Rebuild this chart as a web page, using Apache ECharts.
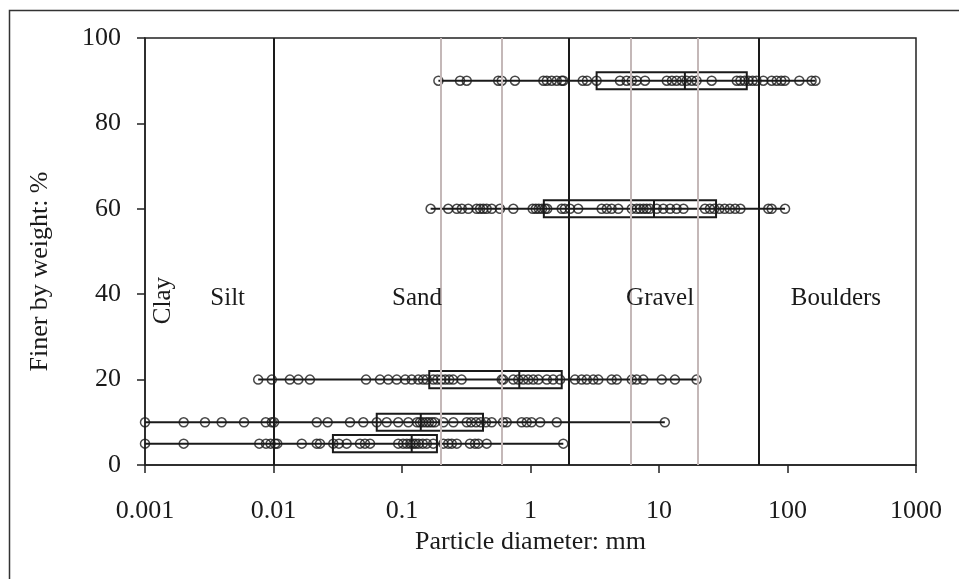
<!DOCTYPE html>
<html>
<head>
<meta charset="utf-8">
<script src="https://cdn.jsdelivr.net/npm/echarts@6/dist/echarts.min.js"></script>
<style>
html,body{margin:0;padding:0;background:#fff;}
#chart{width:959px;height:579px;}
</style>
</head>
<body>
<div id="chart"></div>
<script>
// Tick labels
const xTickLabels = ['0.001','0.01','0.1','1','10','100','1000'];
const yTickLabels = [0,20,40,60,80,100];

// Rows (percent finer) and their particle diameters (mm)
const rowLevels = [5, 10, 20, 60, 90];

const d5 = [0.001,0.002,0.00775,0.00874,0.0095,0.0103,0.0107,0.0166,0.0217,0.023,0.0292,0.0323,0.0371,0.0471,0.0515,0.0564,0.0935,0.102,0.109,0.116,0.122,0.128,0.135,0.145,0.156,0.175,0.21,0.229,0.244,0.267,0.338,0.37,0.393,0.456,1.8];
const d10 = [0.001,0.002,0.00293,0.00395,0.0059,0.0087,0.0097,0.0101,0.0217,0.0264,0.0394,0.05,0.0636,0.076,0.0935,0.112,0.131,0.138,0.145,0.154,0.162,0.171,0.18,0.21,0.251,0.319,0.345,0.377,0.41,0.45,0.499,0.611,0.653,0.854,0.934,1.02,1.19,1.6,11.1];
const d20 = [0.0076,0.0097,0.0134,0.0156,0.0192,0.0525,0.0674,0.0782,0.091,0.106,0.119,0.134,0.146,0.156,0.175,0.188,0.202,0.217,0.233,0.25,0.291,0.597,0.614,0.735,0.804,0.879,0.96,1.05,1.15,1.34,1.5,1.7,2.22,2.5,2.74,3.08,3.37,4.28,4.69,6.14,6.7,7.55,10.5,13.3,19.6];
const d60 = [0.167,0.229,0.267,0.292,0.328,0.381,0.405,0.429,0.456,0.499,0.579,0.735,1.04,1.1,1.16,1.23,1.3,1.35,1.75,1.85,2.03,2.35,3.58,3.92,4.28,4.82,6.14,6.7,7.11,7.57,8.02,8.51,9.6,10.8,12.2,13.7,15.5,22.8,24.9,26.9,29.5,32.4,35.6,39.1,43,70.9,75.3,95.7];
const d90 = [0.192,0.283,0.319,0.561,0.597,0.757,1.26,1.34,1.46,1.6,1.75,1.8,2.55,2.75,3.27,4.97,5.6,6.14,6.7,7.78,11.5,12.6,13.7,15.1,16.4,18.0,19.6,25.7,40.3,43,46.4,49.8,53.5,57.4,64.8,75.3,82.4,89.4,95.4,123.6,154,165];

// Box statistics per row: [level, min, q1, median, q3, max]
const boxStats = [
  [5, 0.001, 0.029, 0.119, 0.187, 1.8],
  [10, 0.001, 0.0636, 0.14, 0.427, 11.1],
  [20, 0.0076, 0.163, 0.818, 1.75, 19.6],
  [60, 0.167, 1.27, 9.14, 27.8, 95.7],
  [90, 0.192, 3.27, 15.9, 48.2, 165]
];

// Class boundaries (mm)
const majorBounds = [0.002, 0.01, 2, 60];
const minorBounds = [0.2, 0.6, 6, 20];

// Class names and label positions
const classNames = ['Clay','Silt','Sand','Gravel','Boulders'];
const classX = [0.00138, 0.0044, 0.131, 10.2, 238];
const classY = [38.5, 39, 39, 39, 39];

const rows = [d5, d10, d20, d60, d90];
const pointData = [];
rows.forEach((arr, i) => arr.forEach(v => pointData.push([v, rowLevels[i]])));

const FONT = '"Liberation Serif", "DejaVu Serif", serif';
const TXT = '#1a1a1a';

const chart = echarts.init(document.getElementById('chart'), null, {renderer:'canvas'});

const halfH = 2; // box half-height in % units

const option = {
  animation: false,
  backgroundColor: '#fff',
  graphic: [{
    type: 'rect', left: 7, top: 8, shape: {width: 1000, height: 1000},
    style: {fill: 'none', stroke: '#333', lineWidth: 1.5}, z: -10
  }],
  grid: {left: 145, right: 43, top: 38, bottom: 114, show: true, borderColor: '#222', borderWidth: 1.5, backgroundColor: 'transparent'},
  xAxis: {
    type: 'log', logBase: 10, min: 0.001, max: 1000,
    name: 'Particle diameter: mm', nameLocation: 'middle', nameGap: 60,
    nameTextStyle: {fontFamily: FONT, fontSize: 26, color: TXT},
    axisLine: {show: true, onZero: false, lineStyle: {color: '#222', width: 1.5}},
    axisTick: {show: true, length: 8, inside: false, lineStyle: {color: '#222', width: 1.5}},
    minorTick: {show: false},
    splitLine: {show: false},
    axisLabel: {fontFamily: FONT, fontSize: 26, color: TXT, margin: 33,
      formatter: function(v){ const i = Math.round(Math.log10(v)) + 3; return xTickLabels[i] !== undefined ? xTickLabels[i] : ''; }}
  },
  yAxis: {
    type: 'value', min: 0, max: 100, interval: 20,
    name: 'Finer by weight: %', nameLocation: 'middle', nameGap: 92, nameRotate: 90,
    nameTextStyle: {fontFamily: FONT, fontSize: 26, color: TXT, padding: [0, 40, 0, 0]},
    axisLine: {show: true, lineStyle: {color: '#222', width: 1.5}},
    axisTick: {show: true, length: 8, lineStyle: {color: '#222', width: 1.5}},
    splitLine: {show: false},
    axisLabel: {fontFamily: FONT, fontSize: 26, color: TXT, margin: 24,
      formatter: function(v){ return yTickLabels.indexOf(v) >= 0 ? String(v) : ''; }}
  },
  series: [
    {
      type: 'line', data: [], silent: true,
      markLine: {
        symbol: 'none', silent: true, label: {show: false}, animation: false,
        data: minorBounds.map(v => ({xAxis: v, lineStyle: {color: '#c4b8b8', width: 2, type: 'solid'}}))
          .concat(majorBounds.map(v => ({xAxis: v, lineStyle: {color: '#1a1a1a', width: 2, type: 'solid'}})))
      }
    },
    {
      type: 'custom', z: 3,
      data: boxStats,
      encode: {x: [1,2,3,4,5], y: 0},
      renderItem: function(params, api){
        const y = api.value(0);
        const pMin = api.coord([api.value(1), y]);
        const pQ1 = api.coord([api.value(2), y + halfH]);
        const pQ3 = api.coord([api.value(4), y - halfH]);
        const pMax = api.coord([api.value(5), y]);
        const medTop = api.coord([api.value(3), y + halfH]);
        const medBot = api.coord([api.value(3), y - halfH]);
        const st = {stroke: '#1a1a1a', lineWidth: 2, fill: 'none'};
        return {type: 'group', children: [
          {type: 'line', shape: {x1: pMin[0], y1: pMin[1], x2: pMax[0], y2: pMax[1]}, style: st},
          {type: 'rect', shape: {x: pQ1[0], y: pQ1[1], width: pQ3[0]-pQ1[0], height: pQ3[1]-pQ1[1]}, style: st},
          {type: 'line', shape: {x1: medTop[0], y1: medTop[1], x2: medBot[0], y2: medBot[1]}, style: st}
        ]};
      }
    },
    {
      type: 'scatter', z: 4,
      data: pointData,
      symbol: 'circle', symbolSize: 9,
      itemStyle: {color: 'rgba(255,255,255,0)', borderColor: '#1a1a1a', borderWidth: 1.5}
    },
    {
      type: 'scatter', z: 5, silent: true,
      itemStyle: {color: 'rgba(0,0,0,0)'},
      data: classNames.map((n, i) => ({value: [classX[i], classY[i]], name: n,
        label: {rotate: i === 0 ? 90 : 0}})),
      symbolSize: 1,
      label: {show: true, position: 'inside', formatter: '{b}', fontFamily: FONT, fontSize: 25,
        color: TXT, textBorderWidth: 0, textBorderColor: 'transparent', opacity: 1}
    }
  ]
};
chart.setOption(option);
</script>
</body>
</html>
